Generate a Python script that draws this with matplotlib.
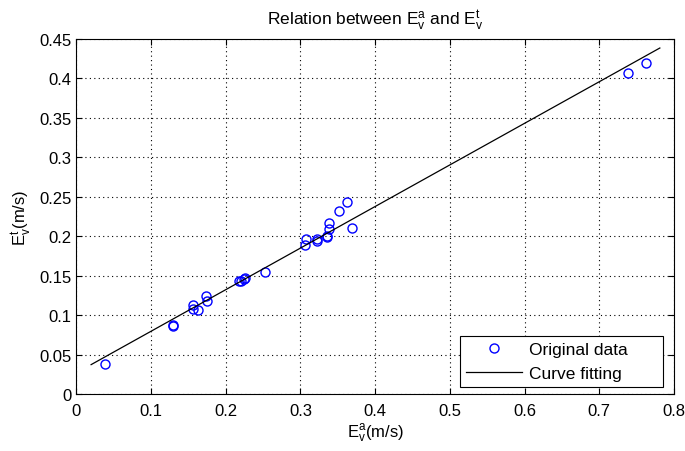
import matplotlib
matplotlib.use('Agg')
import matplotlib.pyplot as plt
import numpy as np

plt.rcParams['font.family'] = ['Liberation Sans', 'DejaVu Sans']
plt.rcParams['mathtext.fontset'] = 'custom'
plt.rcParams['mathtext.rm'] = 'Liberation Sans'
plt.rcParams['mathtext.it'] = 'Liberation Sans'

# measured points (E_v^a, E_v^t)
ea = [0.039, 0.130, 0.130, 0.156, 0.156, 0.163, 0.174, 0.175,
      0.218, 0.221, 0.224, 0.226, 0.253, 0.306, 0.307, 0.322, 0.322,
      0.336, 0.336, 0.338, 0.338, 0.352, 0.362, 0.369, 0.738, 0.762]
et = [0.038, 0.0885, 0.086, 0.1135, 0.108, 0.107, 0.1245, 0.118,
      0.144, 0.1435, 0.1455, 0.1475, 0.155, 0.1887, 0.1963, 0.197, 0.194,
      0.199, 0.201, 0.210, 0.2175, 0.2327, 0.243, 0.211, 0.4067, 0.419]

# fitted line end points
fit_x = [0.0198, 0.781]
fit_y = [0.0377, 0.4386]

fig = plt.figure(figsize=(6.85, 4.52), dpi=100)
ax = fig.add_axes([0.1114, 0.1252, 0.8726, 0.7863])

# trailing spaces give the wide right margin of the matlab legend box
ax.plot(ea, et, 'o', mfc='none', mec='blue', ms=6.5, mew=1.0, label='Original data      ')
ax.plot(fit_x, fit_y, '-', color='black', lw=0.9, label='Curve fitting      ')

ax.set_xlim(0, 0.8)
ax.set_ylim(0, 0.45)
ax.set_xticks(np.arange(0, 0.81, 0.1))
ax.set_yticks(np.arange(0, 0.451, 0.05))
ax.set_xticklabels(['0', '0.1', '0.2', '0.3', '0.4', '0.5', '0.6', '0.7', '0.8'])
ax.set_yticklabels(['0', '0.05', '0.1', '0.15', '0.2', '0.25', '0.3', '0.35', '0.4', '0.45'])
ax.grid(True, linestyle=(0, (1, 3)), color='black', lw=0.8)
ax.tick_params(direction='in', top=True, right=True, length=4, labelsize=12)
ax.tick_params(axis='x', pad=6)
for s in ax.spines.values():
    s.set_linewidth(0.8)

ax.set_xlabel(r'$\mathregular{E_v^a}$(m/s)', fontsize=12, labelpad=3)
ax.set_ylabel(r'$\mathregular{E_v^t}$(m/s)', fontsize=12, labelpad=4)
ax.set_title(r'Relation between $\mathregular{E_v^a}$ and $\mathregular{E_v^t}$', fontsize=12.5, pad=10)

leg = ax.legend(loc='lower right', bbox_to_anchor=(0.9816, 0.021), borderaxespad=0,
                fontsize=12.5, fancybox=False, edgecolor='black', framealpha=1,
                handlelength=3.2, handletextpad=0.4, borderpad=0.35)
leg.get_frame().set_linewidth(0.8)

fig.savefig('out.png', dpi=100, facecolor='white')
